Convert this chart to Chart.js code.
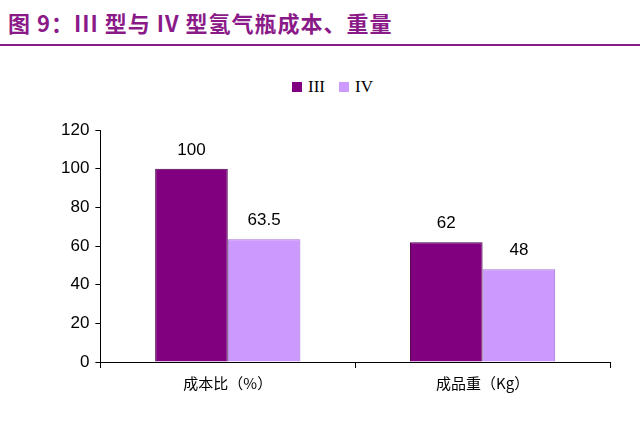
<!DOCTYPE html>
<html><head><meta charset="utf-8">
<script src="https://cdn.jsdelivr.net/npm/chart.js"></script>
<style>
body{margin:0;width:640px;height:422px;background:#fff;position:relative;overflow:hidden}
#title{position:absolute;left:8px;top:6px;font:bold 22px "Noto Sans CJK SC",sans-serif;color:#8B1A89;letter-spacing:1px}
#line{position:absolute;left:0;top:44px;width:640px;height:2px;background:#8B1A89}
#legend{position:absolute;left:292px;top:77px;font:17px "Liberation Serif",serif;color:#000;display:flex;align-items:center}
.sw{display:inline-block;width:10px;height:10px;margin-right:6px}
canvas{position:absolute;left:0;top:0}
</style></head><body>
<div id="title">图 9：III 型与 IV 型氢气瓶成本、重量</div>
<div id="line"></div>
<div id="legend"><span class="sw" style="background:#800080"></span>III<span style="width:14px"></span><span class="sw" style="background:#CC99FF"></span>IV</div>
<canvas id="c" width="640" height="422"></canvas>
<script>
const categories=["成本比（%）","成品重（Kg）"];
const seriesIII=[100,62];
const seriesIV=[63.5,48];
const yTicks=[0,20,40,60,80,100,120];
const labelsPlugin={id:'lbl',afterDatasetsDraw(ch){const c=ch.ctx;c.save();c.font='17px "Liberation Sans",Arial';c.fillStyle='#000';c.textAlign='center';c.textBaseline='bottom';
ch.data.datasets.forEach((d,i)=>{ch.getDatasetMeta(i).data.forEach((b,j)=>{c.fillText(String(d.data[j]),b.x,b.y-10);});});c.restore();}};
new Chart(document.getElementById('c'),{type:'bar',
data:{labels:categories,datasets:[
{label:'III',data:seriesIII,backgroundColor:'#800080',borderColor:'#4a004a',borderWidth:1},
{label:'IV',data:seriesIV,backgroundColor:'#CC99FF',borderColor:'#9f6fd0',borderWidth:1}]},
options:{responsive:false,animation:false,devicePixelRatio:1,
layout:{padding:{top:130,left:55,right:30,bottom:24}},
plugins:{legend:{display:false},tooltip:{enabled:false}},
datasets:{bar:{categoryPercentage:0.57,barPercentage:1}},
scales:{
x:{grid:{display:true,drawOnChartArea:false,color:'#000',tickLength:6,offset:true},border:{color:'#000'},
ticks:{color:'#000',font:{size:15,family:'"Noto Sans CJK SC"'},padding:6}},
y:{min:0,max:120,afterBuildTicks(a){a.ticks=yTicks.map(v=>({value:v}));},grid:{display:true,drawOnChartArea:false,color:'#000',tickLength:5},border:{color:'#000'},
ticks:{color:'#000',font:{size:17,family:'"Liberation Sans",Arial'},padding:6}}}},
plugins:[labelsPlugin]});
</script></body></html>
